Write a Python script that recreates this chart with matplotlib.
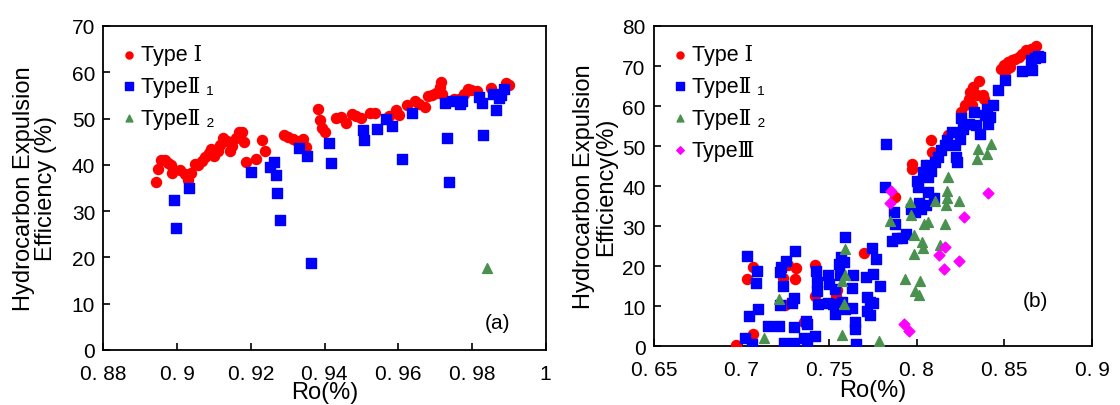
import numpy as np
import matplotlib
matplotlib.use('Agg')
import matplotlib.pyplot as plt

plt.rcParams['font.family'] = ['Liberation Sans', 'Noto Sans CJK SC', 'DejaVu Sans']

# ---- panel (a) data ----
a_type1_x = [0.8942, 0.8948, 0.8955, 0.8967, 0.8974, 0.8982, 0.8986, 0.9008, 0.9020, 0.9030,
             0.9037, 0.9047, 0.9057, 0.9067, 0.9076, 0.9086, 0.9091, 0.9100, 0.9110, 0.9115,
             0.9125, 0.9134, 0.9144, 0.9149, 0.9159, 0.9168, 0.9176, 0.9181, 0.9186, 0.9215,
             0.9231, 0.9237, 0.9289, 0.9300, 0.9313, 0.9325, 0.9342, 0.9350, 0.9381, 0.9388,
             0.9393, 0.9402, 0.9432, 0.9445, 0.9459, 0.9474, 0.9486, 0.9500, 0.9522, 0.9536,
             0.9575, 0.9594, 0.9602, 0.9623, 0.9645, 0.9655, 0.9672, 0.9682, 0.9691, 0.9703,
             0.9713, 0.9716, 0.9720, 0.9750, 0.9764, 0.9779, 0.9788, 0.9798, 0.9813, 0.9851,
             0.9893, 0.9900]
a_type1_y = [36.3, 39.2, 41.0, 41.0, 40.5, 40.0, 38.3, 38.9, 38.1, 36.8,
             38.3, 40.2, 40.0, 40.8, 41.7, 42.5, 43.4, 41.9, 43.0, 44.3,
             45.9, 45.2, 43.0, 44.1, 45.9, 47.0, 47.0, 44.9, 40.6, 41.3,
             45.4, 43.0, 46.4, 46.0, 45.5, 45.2, 45.5, 43.9, 52.1, 49.7,
             47.9, 47.1, 50.1, 50.4, 49.1, 50.9, 50.6, 50.1, 51.1, 51.1,
             50.6, 51.8, 50.8, 52.9, 53.7, 53.1, 52.6, 54.9, 55.0, 55.6,
             56.9, 57.8, 55.2, 54.2, 54.3, 55.4, 56.3, 56.2, 56.0, 56.5,
             57.6, 57.2]
a_type21_x = [0.8991, 0.8997, 0.9033, 0.9199, 0.9251, 0.9263, 0.9268, 0.9270, 0.9280, 0.9330,
              0.9353, 0.9364, 0.9413, 0.9418, 0.9503, 0.9508, 0.9542, 0.9566, 0.9583, 0.9609,
              0.9638, 0.9726, 0.9732, 0.9738, 0.9745, 0.9767, 0.9774, 0.9818, 0.9826, 0.9830,
              0.9857, 0.9866, 0.9874, 0.9880, 0.9888]
a_type21_y = [32.3, 26.3, 34.9, 38.5, 39.6, 40.7, 37.7, 34.0, 28.0, 43.7,
              41.9, 18.9, 44.8, 40.3, 47.5, 45.4, 47.8, 49.8, 48.5, 41.3,
              51.3, 53.3, 45.9, 36.2, 53.8, 53.1, 53.8, 54.7, 53.4, 46.4,
              55.2, 51.9, 54.5, 55.0, 56.3]
a_type22_x = [0.9840]
a_type22_y = [17.8]

# ---- panel (b) data ----
b_type1_x = [0.6969, 0.7065, 0.7033, 0.7067, 0.7235, 0.7249, 0.7265, 0.7310, 0.7306, 0.7357,
             0.7420, 0.7420, 0.7537, 0.7547, 0.7700, 0.7878, 0.7970, 0.7974, 0.8051, 0.8082,
             0.8089, 0.8180, 0.8255, 0.8276, 0.8296, 0.8306, 0.8322, 0.8357, 0.8343, 0.8378,
             0.8384, 0.8316, 0.8480, 0.8500, 0.8520, 0.8541, 0.8561, 0.8582, 0.8602, 0.8622,
             0.8649, 0.8680, 0.8510, 0.8534]
b_type1_y = [0.2, 3.1, 16.7, 19.9, 17.0, 10.3, 20.2, 19.5, 16.7, 6.0,
             20.2, 12.5, 12.5, 14.1, 23.3, 37.3, 44.2, 45.6, 45.2, 51.4,
             48.5, 52.8, 58.5, 60.2, 61.8, 63.5, 64.8, 66.2, 62.7, 62.7,
             61.8, 60.2, 69.3, 70.2, 71.0, 71.4, 71.8, 72.3, 73.1, 73.9,
             74.2, 75.0, 68.9, 69.8]
b_type21_x = [0.7031, 0.7041, 0.7020, 0.7057, 0.7088, 0.7082, 0.7096, 0.7149, 0.7214, 0.7218,
              0.7224, 0.7235, 0.7218, 0.7239, 0.7255, 0.7296, 0.7290, 0.7300, 0.7306, 0.7300,
              0.7357, 0.7367, 0.7371, 0.7373, 0.7418, 0.7422, 0.7429, 0.7429, 0.7433, 0.7494,
              0.7500, 0.7494, 0.7520, 0.7531, 0.7535, 0.7557, 0.7567, 0.7582, 0.7588, 0.7561,
              0.7571, 0.7592, 0.7633, 0.7629, 0.7629, 0.7649, 0.7649, 0.7653, 0.7710, 0.7714,
              0.7718, 0.7735, 0.7745, 0.7751, 0.7765, 0.7792, 0.7751, 0.7735,
              0.7822, 0.7816, 0.7857, 0.7867, 0.7878, 0.7888, 0.7914, 0.7939, 0.7969, 0.7990,
              0.8000, 0.8006, 0.8010, 0.8024, 0.8051, 0.8037, 0.8051, 0.8061, 0.8061, 0.8082,
              0.8102, 0.8122, 0.8100, 0.8139, 0.8159, 0.8174, 0.8200, 0.8220, 0.8225, 0.8229,
              0.8245, 0.8255, 0.8265, 0.8296, 0.8327, 0.8337, 0.8363, 0.8388, 0.8398, 0.8408,
              0.8418, 0.8433, 0.8465, 0.8506, 0.8602, 0.8657, 0.8653, 0.8673, 0.8694, 0.8704]
b_type21_y = [22.5, 7.5, 2.0, 0.6, 18.9, 15.8, 9.3, 5.0, 5.0, 18.5,
              19.8, 15.0, 10.3, 0.8, 21.4, 4.75, 10.8, 12.0, 23.9, 0.8,
              2.0, 6.4, 0.2, 5.6, 2.5, 18.9, 16.0, 13.9, 10.6, 17.8,
              15.6, 10.8, 10.6, 14.3, 8.1, 20.6, 22.2, 21.0, 27.25, 17.7,
              11.0, 9.3, 17.7, 14.5, 9.5, 6.0, 4.3, 0.6, 17.4, 12.25,
              8.9, 11.0, 24.5, 18.1, 21.8, 15.0, 10.8, 7.7,
              50.4, 39.75, 26.2, 33.5, 30.6, 27.0, 27.0, 28.1, 34.3, 33.5,
              41.2, 39.75, 35.8, 34.3, 35.3, 43.5, 45.2, 42.25, 38.5, 43.9,
              46.0, 47.25, 37.0, 48.9, 50.2, 51.4, 53.5, 50.2, 47.25, 46.0,
              51.8, 57.0, 54.3, 55.6, 58.5, 55.2, 53.1, 57.7, 59.3, 55.6,
              57.25, 60.2, 63.9, 66.4, 68.7, 68.9, 71.4, 72.0, 72.5, 72.25]
b_type22_x = [0.7129, 0.7214, 0.7571, 0.7582, 0.7571, 0.7592, 0.7592, 0.7782, 0.7847, 0.7935,
              0.7960, 0.7965, 0.7981, 0.7986, 0.7990, 0.8010, 0.8020, 0.8031, 0.8037, 0.8041,
              0.8065, 0.8106, 0.8133, 0.8163, 0.8169, 0.8174, 0.8174, 0.8180, 0.8241, 0.8343,
              0.8347, 0.8398, 0.8422]
b_type22_y = [2.0, 11.7, 2.9, 10.6, 16.4, 17.7, 24.3, 1.4, 31.4, 16.8,
              36.0, 32.7, 27.7, 23.1, 13.9, 12.7, 16.4, 26.0, 24.5, 30.6,
              31.0, 36.4, 25.2, 30.6, 35.2, 37.0, 38.7, 42.25, 36.4, 46.7,
              49.3, 48.1, 50.4]
b_type3_x = [0.7847, 0.7853, 0.7929, 0.7953, 0.8127, 0.8153, 0.8163, 0.8241, 0.8270, 0.8408]
b_type3_y = [35.8, 38.9, 5.6, 3.7, 22.7, 19.2, 24.75, 21.2, 32.25, 38.25]

a_xticks = [0.88, 0.9, 0.92, 0.94, 0.96, 0.98, 1.0]
a_xlabels = ['0. 88', '0. 9', '0. 92', '0. 94', '0. 96', '0. 98', '1']
b_xticks = [0.65, 0.7, 0.75, 0.8, 0.85, 0.9]
b_xlabels = ['0. 65', '0. 7', '0. 75', '0. 8', '0. 85', '0. 9']

tick_fs = 15
label_fs = 17
leg_fs = 15.5

fig = plt.figure(figsize=(11.2, 4.06), dpi=100)
ax1 = fig.add_axes([0.0924, 0.1355, 0.3948, 0.798])
ax2 = fig.add_axes([0.584, 0.1446, 0.391, 0.789])


def style(ax):
    for s in ax.spines.values():
        s.set_linewidth(1.3)
        s.set_color('black')
    ax.tick_params(direction='in', length=5, width=1.2, labelsize=tick_fs,
                   top=False, right=False)
    ax.tick_params(axis='x', pad=10)
    ax.tick_params(axis='y', pad=6)


def add_legend(ax):
    ax.legend(loc='upper left', bbox_to_anchor=(0.0, 0.99), frameon=False,
              prop={'size': leg_fs, 'family': ['Liberation Sans', 'DejaVu Serif']},
              handletextpad=0.05, handlelength=1.0, labelspacing=0.5, borderaxespad=0.3,
              markerscale=0.7)


ax1.scatter(a_type1_x, a_type1_y, s=52, c='#ff0000', marker='o', label='Type Ⅰ', zorder=3)
ax1.scatter(a_type21_x, a_type21_y, s=55, c='#0000ff', marker='s', label='TypeⅡ ₁', zorder=3)
ax1.scatter(a_type22_x, a_type22_y, s=50, c='#4a9150', marker='^', label='TypeⅡ ₂', zorder=3)
ax1.set_xlim(0.88, 1.0)
ax1.set_ylim(0, 70)
ax1.set_xticks(a_xticks)
ax1.set_xticklabels(a_xlabels)
ax1.set_yticks(np.arange(0, 71, 10))
style(ax1)
ax1.set_xlabel('Ro(%)', fontsize=label_fs, labelpad=-1)
ax1.set_ylabel('Hydrocarbon Expulsion\nEfficiency (%)', fontsize=label_fs, labelpad=10.5,
               linespacing=1.0)
ax1.text(0.89, 0.086, '(a)', transform=ax1.transAxes, fontsize=tick_fs, ha='center', va='center')
add_legend(ax1)

ax2.scatter(b_type1_x, b_type1_y, s=52, c='#ff0000', marker='o', label='Type Ⅰ', zorder=3)
ax2.scatter(b_type21_x, b_type21_y, s=55, c='#0000ff', marker='s', label='TypeⅡ ₁', zorder=3)
ax2.scatter(b_type22_x, b_type22_y, s=50, c='#4a9150', marker='^', label='TypeⅡ ₂', zorder=3)
ax2.scatter(b_type3_x, b_type3_y, s=30, c='#ff00ff', marker='D', label='TypeⅢ', zorder=3)
ax2.set_xlim(0.65, 0.9)
ax2.set_ylim(0, 80)
ax2.set_xticks(b_xticks)
ax2.set_xticklabels(b_xlabels)
ax2.set_yticks(np.arange(0, 81, 10))
style(ax2)
ax2.set_xlabel('Ro(%)', fontsize=label_fs, labelpad=0)
ax2.set_ylabel('Hydrocarbon Expulsion\nEfficiency(%)', fontsize=label_fs, labelpad=4,
               linespacing=1.0)
ax2.text(0.87, 0.143, '(b)', transform=ax2.transAxes, fontsize=tick_fs, ha='center', va='center')
add_legend(ax2)

fig.savefig('out.png', dpi=100)
